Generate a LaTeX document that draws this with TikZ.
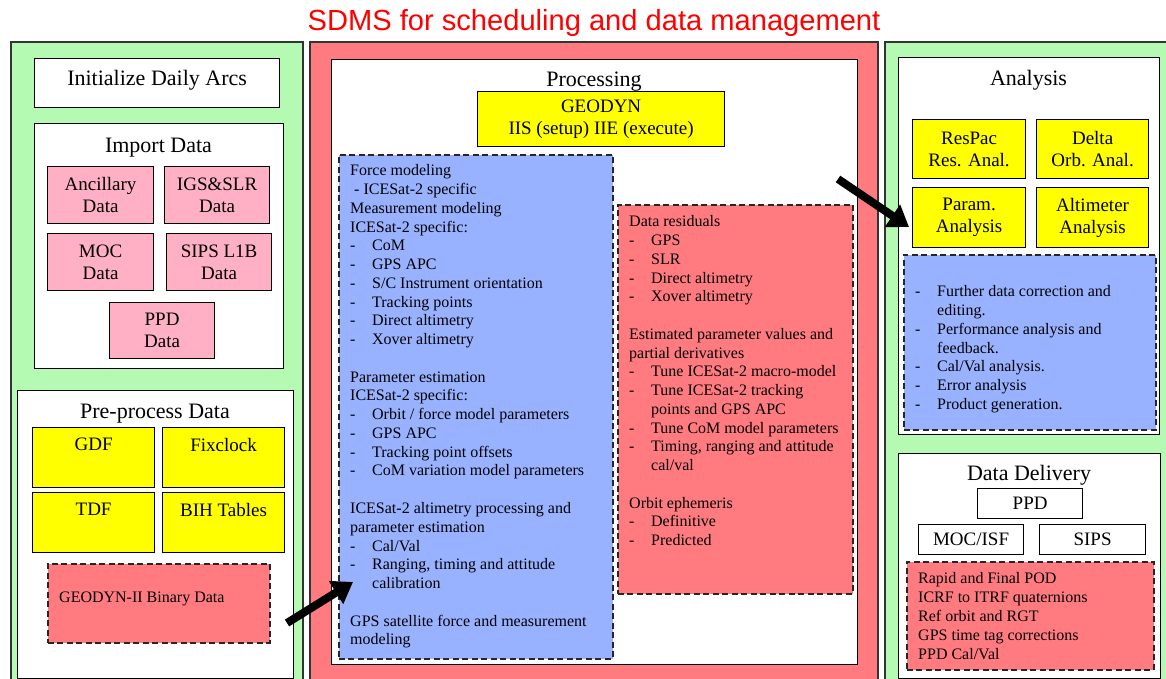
\documentclass[tikz,border=0pt]{standalone}
\usepackage{fontspec}
\setmainfont{Liberation Serif}
\newfontfamily\titlefont{Liberation Sans}
\usetikzlibrary{arrows.meta}
\definecolor{gpanel}{HTML}{B4FAB2}
\definecolor{rpanel}{HTML}{FF7B80}
\definecolor{pinkc}{HTML}{FFB0C4}
\definecolor{bluec}{HTML}{99B2FF}
\definecolor{yelc}{HTML}{FFFF00}
\definecolor{edgec}{HTML}{333333}
\newcommand\dashitem[1]{\makebox[22pt][l]{-}#1}
\newcommand\contline[1]{\hspace*{22pt}#1}
\tikzset{
  panel/.style={draw=edgec, line width=1.6pt, anchor=north west, inner sep=0pt},
  wbox/.style={draw=black, fill=white, line width=1.2pt, anchor=north west, inner sep=0pt},
  pbox/.style={draw=black, fill=pinkc, line width=1.2pt, anchor=north west, inner sep=0pt, align=center, font=\fontsize{19}{22}\selectfont},
  ybox/.style={draw=black, fill=yelc, line width=1.2pt, anchor=north west, inner sep=0pt, align=center, font=\fontsize{19}{22}\selectfont},
  dbox/.style={draw=black!85, line width=1.6pt, dash pattern=on 6pt off 3.5pt, anchor=north west, inner sep=0pt},
  ttl/.style={font=\fontsize{22}{26}\selectfont, inner sep=0pt},
  txt/.style={font=\fontsize{16}{18.76}\selectfont, align=left, inner sep=0pt, anchor=north west},
  toplbl/.style={font=\fontsize{19}{22}\selectfont, anchor=north, inner sep=0pt, yshift=-11pt},
  bigarrow/.style={line width=8pt, -{Triangle[length=20pt,width=26pt]}}
}
\begin{document}
\begin{tikzpicture}[x=1pt,y=-1pt]
\useasboundingbox (0,0) rectangle (1166,679);
\clip (0,0) rectangle (1166,679);
\fill[white] (0,0) rectangle (1166,679);
% title
\node[font=\titlefont\fontsize{29.1}{32}\selectfont, text=red, inner sep=0pt] (title) at (594,23) {SDMS for scheduling and data management};
% panels
\node[panel, fill=gpanel, minimum width=292pt, minimum height=700pt] (leftp) at (10,41) {};
\node[panel, fill=rpanel, minimum width=568pt, minimum height=700pt] (midp) at (309,41) {};
\node[panel, fill=gpanel, minimum width=320pt, minimum height=700pt] (rightp) at (884,41) {};
% ---- left
\node[wbox, minimum width=245pt, minimum height=49pt, font=\fontsize{22}{26}\selectfont, text depth=10pt] (init) at (34,58) {Initialize Daily Arcs};
\node[wbox, minimum width=249pt, minimum height=245pt] (import) at (34,123) {};
\node[ttl] (importT) at (158.5,147.5) {Import Data};
\node[pbox, minimum width=106pt, minimum height=57pt] (anc) at (47,166) {Ancillary\\Data};
\node[pbox, minimum width=105pt, minimum height=57pt] (igs) at (164,166) {IGS\&SLR\\Data};
\node[pbox, minimum width=106pt, minimum height=57pt] (moc) at (47,233) {MOC\\Data};
\node[pbox, minimum width=105pt, minimum height=57pt] (sips) at (166,233) {SIPS L1B\\Data};
\node[pbox, minimum width=105pt, minimum height=56pt] (ppd) at (109,302) {PPD\\Data};
\node[wbox, minimum width=276pt, minimum height=288pt] (pre) at (17,390) {};
\node[ttl] (preT) at (155,414) {Pre-process Data};
\node[ybox, minimum width=122pt, minimum height=60pt, label={[toplbl]north:GDF}] (gdf) at (32,427) {};
\node[ybox, minimum width=122pt, minimum height=60pt, label={[toplbl]north:Fixclock}] (fix) at (162,427) {};
\node[ybox, minimum width=122pt, minimum height=60pt, label={[toplbl]north:TDF}] (tdf) at (32,492) {};
\node[ybox, minimum width=122pt, minimum height=60pt, label={[toplbl]north:BIH Tables}] (bih) at (162,492) {};
\node[dbox, fill=rpanel, minimum width=222pt, minimum height=79pt] (bin) at (47,563) {};
\node[font=\fontsize{16}{18.7}\selectfont, anchor=west, inner sep=0pt] (binT) at (59,598.5) {GEODYN-II Binary Data};
% ---- middle
\node[wbox, minimum width=526pt, minimum height=605pt] (proc) at (331,59) {};
\node[ttl] (procT) at (594,81.5) {Processing};
\node[ybox, minimum width=247pt, minimum height=55pt] (geo) at (477,91) {GEODYN\\IIS (setup) IIE (execute)};
\node[dbox, fill=bluec, minimum width=274pt, minimum height=504pt] (pblue) at (338,154) {};
\node[txt] (pblueT) at (350,164.5) {Force modeling\\
\hspace*{4pt}- ICESat-2 specific\\
Measurement modeling\\
ICESat-2 specific:\\
\dashitem{CoM}\\
\dashitem{GPS APC}\\
\dashitem{S/C Instrument orientation}\\
\dashitem{Tracking points}\\
\dashitem{Direct altimetry}\\
\dashitem{Xover altimetry}\\[18.76pt]
Parameter estimation\\
ICESat-2 specific:\\
\dashitem{Orbit / force model parameters}\\
\dashitem{GPS APC}\\
\dashitem{Tracking point offsets}\\
\dashitem{CoM variation model parameters}\\[18.76pt]
ICESat-2 altimetry processing and\\
parameter estimation\\
\dashitem{Cal/Val}\\
\dashitem{Ranging, timing and attitude}\\
\contline{calibration}\\[18.76pt]
GPS satellite force and measurement\\
modeling};
\node[dbox, fill=rpanel, minimum width=235pt, minimum height=389pt] (pred) at (617,204) {};
\node[txt] (predT) at (629,215.5) {Data residuals\\
\dashitem{GPS}\\
\dashitem{SLR}\\
\dashitem{Direct altimetry}\\
\dashitem{Xover altimetry}\\[18.76pt]
Estimated parameter values and\\
partial derivatives\\
\dashitem{Tune ICESat-2 macro-model}\\
\dashitem{Tune ICESat-2 tracking}\\
\contline{points and GPS APC}\\
\dashitem{Tune CoM model parameters}\\
\dashitem{Timing, ranging and attitude}\\
\contline{cal/val}\\[18.76pt]
Orbit ephemeris\\
\dashitem{Definitive}\\
\dashitem{Predicted}};
% ---- right
\node[wbox, minimum width=261pt, minimum height=377pt] (ana) at (898,57) {};
\node[ttl] (anaT) at (1028.5,80) {Analysis};
\node[ybox, minimum width=113pt, minimum height=59pt] (respac) at (912,119) {ResPac\\Res. Anal.};
\node[ybox, minimum width=112pt, minimum height=59pt] (delta) at (1036,119) {Delta\\Orb. Anal.};
\node[ybox, minimum width=113pt, minimum height=60pt] (param) at (912,187) {Param.\\Analysis};
\node[ybox, minimum width=112pt, minimum height=60pt] (alt) at (1036,187) {Altimeter\\Analysis};
\node[dbox, fill=bluec, minimum width=252pt, minimum height=175pt] (ablue) at (903,254) {};
\node[txt] (ablueT) at (915,285.5) {\makebox[22pt][l]{-}Further data correction and\\
\contline{editing.}\\
\makebox[22pt][l]{-}Performance analysis and\\
\contline{feedback.}\\
\makebox[22pt][l]{-}Cal/Val analysis.\\
\makebox[22pt][l]{-}Error analysis\\
\makebox[22pt][l]{-}Product generation.};
\node[wbox, minimum width=262pt, minimum height=225pt] (dd) at (898,453) {};
\node[ttl] (ddT) at (1029,475) {Data Delivery};
\node[wbox, minimum width=105pt, minimum height=30pt, font=\fontsize{19}{22}\selectfont] (dppd) at (977,488) {PPD};
\node[wbox, minimum width=105pt, minimum height=30pt, font=\fontsize{19}{22}\selectfont] (dmoc) at (918,524) {MOC/ISF};
\node[wbox, minimum width=106pt, minimum height=30pt, font=\fontsize{19}{22}\selectfont] (dsips) at (1039,524) {SIPS};
\node[dbox, fill=rpanel, minimum width=247pt, minimum height=108pt] (dred) at (906,561) {};
\node[txt, font=\fontsize{16}{19}\selectfont] (dredT) at (918,572.5) {Rapid and Final POD\\
ICRF to ITRF quaternions\\
Ref orbit and RGT\\
GPS time tag corrections\\
PPD Cal/Val};
% arrows
\coordinate (a1s) at (287,623);
\coordinate (a1e) at (353,582);
\coordinate (a2s) at (838,179);
\coordinate (a2e) at (909,227);
\draw[bigarrow] (a1s) -- (a1e);
\draw[bigarrow] (a2s) -- (a2e);
\end{tikzpicture}
\end{document}
